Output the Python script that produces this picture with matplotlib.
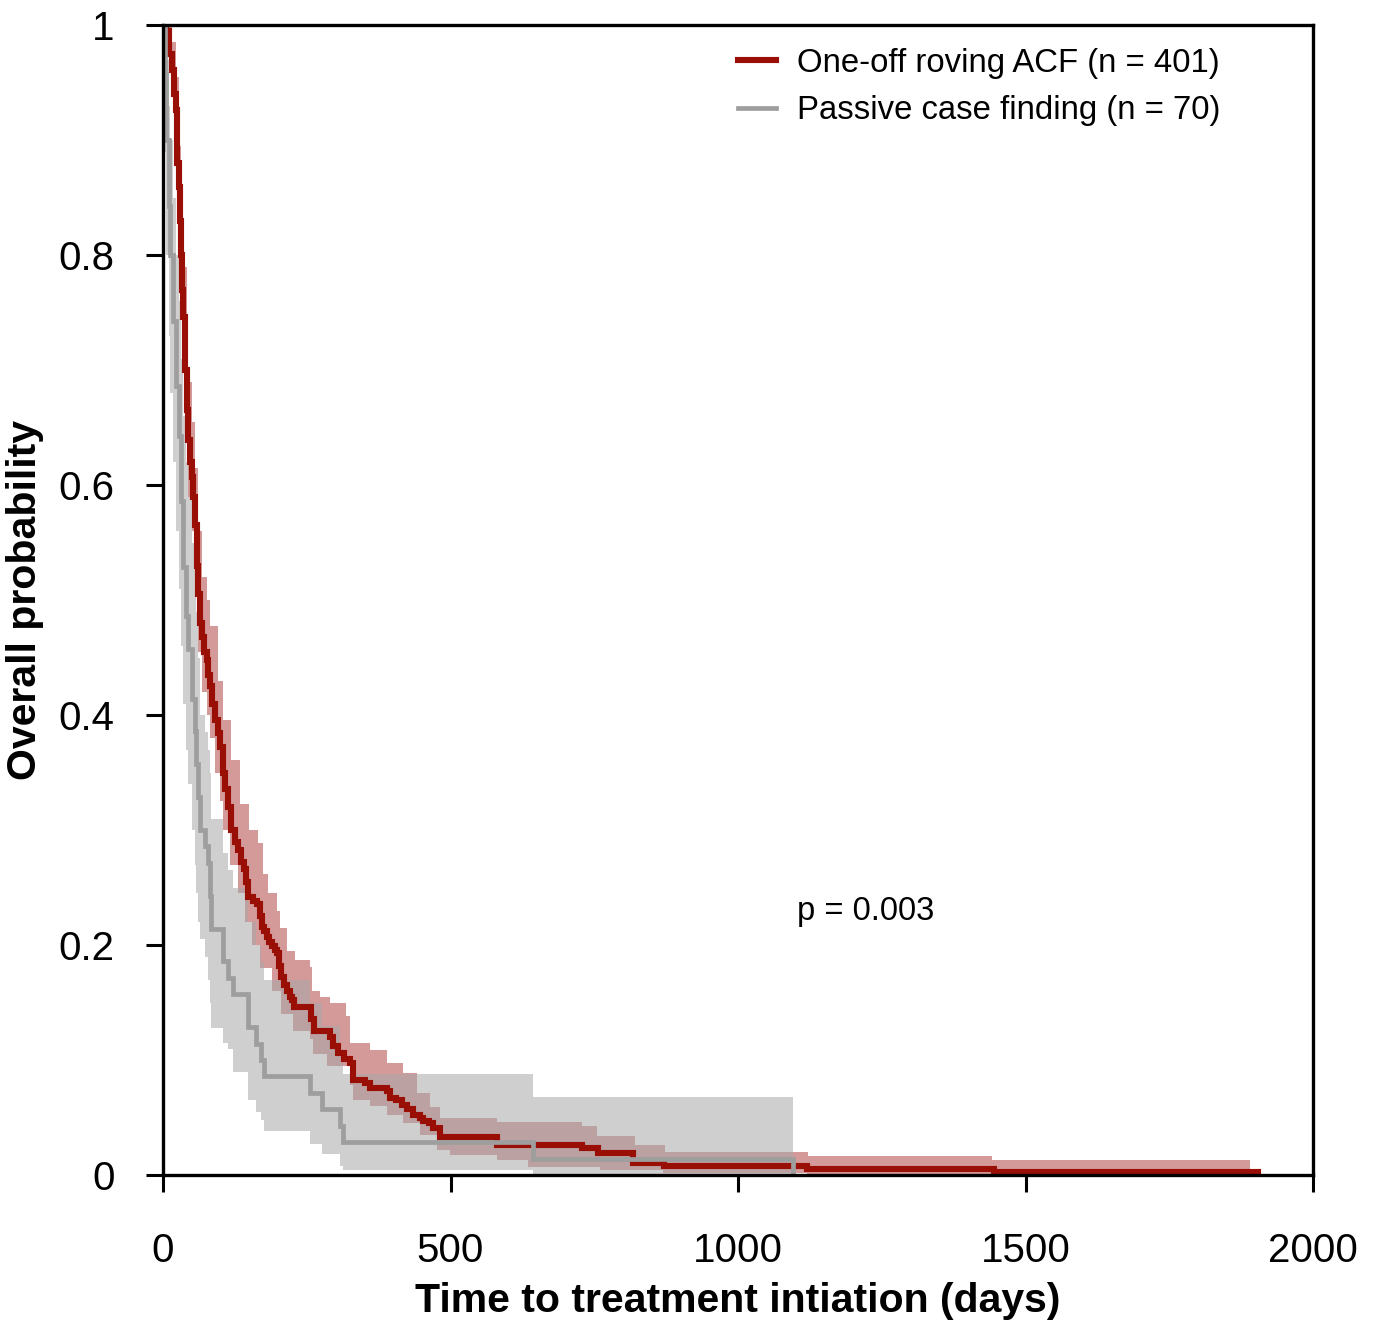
import numpy as np
import matplotlib
matplotlib.use('Agg')
import matplotlib.pyplot as plt

plt.rcParams['font.family'] = ['Liberation Sans', 'DejaVu Sans']

# One-off roving ACF (n = 401): Kaplan-Meier steps
acf_t = [0, 6, 10, 15, 19, 22, 25, 27, 29, 31, 33, 35, 38, 41, 44, 47, 50, 53, 56, 59,
         61, 64, 67, 72, 76, 79, 82, 86, 90, 95, 99, 104, 108, 113, 119, 125, 131, 136,
         140, 144, 148, 156, 163, 168, 172, 176, 180, 185, 189, 194, 198, 202, 206, 211,
         215, 220, 224, 227, 258, 262, 290, 296, 305, 315, 325, 331, 351, 360, 389, 395,
         406, 415, 424, 435, 447, 453, 462, 470, 482, 581, 728, 757, 817, 872, 1120,
         1445, 1905]
acf_s = [1.0, 0.995, 0.975, 0.961, 0.94, 0.926, 0.88, 0.859, 0.83, 0.80, 0.77, 0.746,
         0.70, 0.665, 0.639, 0.62, 0.607, 0.59, 0.565, 0.53, 0.505, 0.48, 0.468, 0.455,
         0.448, 0.435, 0.425, 0.41, 0.396, 0.384, 0.372, 0.35, 0.336, 0.32, 0.30, 0.29,
         0.283, 0.272, 0.266, 0.255, 0.242, 0.238, 0.236, 0.225, 0.216, 0.212, 0.207,
         0.203, 0.199, 0.196, 0.193, 0.182, 0.172, 0.165, 0.160, 0.155, 0.152, 0.146,
         0.136, 0.125, 0.120, 0.112, 0.106, 0.101, 0.097, 0.083, 0.080, 0.076, 0.073,
         0.067, 0.065, 0.061, 0.057, 0.052, 0.050, 0.047, 0.045, 0.041, 0.033, 0.026,
         0.0235, 0.019, 0.0105, 0.0075, 0.005, 0.0025, 0.0]
acf_up_t = [0, 15, 22, 27, 31, 35, 41, 44, 50, 56, 61, 67, 76, 82, 96, 105, 119, 134, 150,
            166, 174, 183, 198, 203, 215, 230, 256, 259, 273, 290, 319, 325, 360, 389,
            418, 441, 464, 482, 581, 728, 755, 821, 873, 1122, 1442, 1890]
acf_up = [1.0, 0.985, 0.955, 0.895, 0.845, 0.79, 0.715, 0.69, 0.655, 0.615, 0.56, 0.52,
          0.50, 0.477, 0.43, 0.396, 0.361, 0.323, 0.30, 0.289, 0.262, 0.245, 0.23, 0.215,
          0.195, 0.187, 0.181, 0.16, 0.155, 0.15, 0.138, 0.115, 0.109, 0.097, 0.089,
          0.071, 0.059, 0.050, 0.046, 0.043, 0.034, 0.026, 0.020, 0.0165, 0.013, 0.013]
acf_lo_t = [0, 6, 15, 22, 27, 31, 35, 41, 44, 50, 56, 61, 67, 76, 82, 90, 99, 105, 117,
            131, 143, 154, 169, 189, 206, 226, 256, 261, 285, 325, 331, 360, 389, 418,
            447, 476, 499, 581, 635, 760, 870, 1120, 1890]
acf_lo = [1.0, 0.985, 0.94, 0.90, 0.825, 0.76, 0.70, 0.62, 0.59, 0.56, 0.52, 0.455, 0.42,
          0.40, 0.38, 0.35, 0.325, 0.30, 0.27, 0.245, 0.22, 0.20, 0.18, 0.16, 0.14, 0.125,
          0.118, 0.105, 0.095, 0.078, 0.065, 0.06, 0.052, 0.045, 0.035, 0.022, 0.017,
          0.013, 0.007, 0.004, 0.002, 0.0008, 0.0008]

# Passive case finding (n = 70)
pcf_t = [0, 3, 6, 10, 13, 17, 22, 27, 31, 35, 40, 44, 50, 56, 58, 61, 64, 73, 79, 81, 83,
         105, 113, 122, 148, 162, 170, 176, 256, 276, 308, 313, 644, 1096]
pcf_s = [1.0, 0.957, 0.9, 0.843, 0.8, 0.743, 0.686, 0.643, 0.586, 0.529, 0.486, 0.457,
         0.414, 0.386, 0.357, 0.329, 0.3, 0.286, 0.271, 0.243, 0.214, 0.186, 0.171, 0.157,
         0.129, 0.114, 0.1, 0.086, 0.071, 0.057, 0.043, 0.029, 0.014, 0.0]
pcf_up_t = [0, 3, 6, 10, 13, 17, 22, 27, 31, 35, 40, 44, 50, 56, 58, 61, 64, 73, 79, 81,
            83, 105, 113, 122, 148, 162, 170, 176, 256, 276, 308, 313, 644, 1096]
pcf_up = [1.0, 1.0, 0.97, 0.93, 0.90, 0.85, 0.80, 0.76, 0.71, 0.66, 0.62, 0.59, 0.55,
          0.52, 0.49, 0.45, 0.40, 0.385, 0.37, 0.35, 0.31, 0.28, 0.265, 0.25, 0.22, 0.20,
          0.185, 0.17, 0.15, 0.13, 0.11, 0.088, 0.068, 0.068]
pcf_lo_t = pcf_up_t
pcf_lo = [1.0, 0.89, 0.80, 0.73, 0.68, 0.62, 0.56, 0.51, 0.46, 0.41, 0.37, 0.34, 0.30,
          0.27, 0.245, 0.22, 0.205, 0.19, 0.17, 0.15, 0.128, 0.115, 0.11, 0.09, 0.065,
          0.055, 0.048, 0.038, 0.027, 0.018, 0.008, 0.004, 0.0, 0.0]

x_ticks = [0, 500, 1000, 1500, 2000]
y_ticks = [0, 0.2, 0.4, 0.6, 0.8, 1]
y_ticklabels = ['0', '0.2', '0.4', '0.6', '0.8', '1']

red = '#990f05'
grey = '#9e9e9e'


def step_xy(t, v):
    t = np.asarray(t, float)
    v = np.asarray(v, float)
    x = np.repeat(t, 2)[1:]
    y = np.repeat(v, 2)[:-1]
    return x, y


def band(ax, t_up, up, t_lo, lo, **kw):
    xu, yu = step_xy(t_up, up)
    xl, yl = step_xy(t_lo, lo)
    ax.fill(np.r_[xu, xl[::-1]], np.r_[yu, yl[::-1]], lw=0, **kw)


fig = plt.figure(figsize=(13.78, 13.24), dpi=100)
ax = fig.add_axes([163 / 1378, 149 / 1324, 1150 / 1378, 1150 / 1324])

band(ax, acf_up_t, acf_up, acf_lo_t, acf_lo, color=(0.63, 0.12, 0.12), alpha=0.45)
band(ax, pcf_up_t, pcf_up, pcf_lo_t, pcf_lo, color=(0.66, 0.66, 0.66), alpha=0.55)

ax.step(acf_t, acf_s, where='post', color=red, lw=4.4, solid_joinstyle='miter',
        label='One-off roving ACF (n = 401)')
ax.step(pcf_t, pcf_s, where='post', color=grey, lw=3.4, solid_joinstyle='miter',
        label='Passive case finding (n = 70)')

ax.set_xlim(0, 2000)
ax.set_ylim(0, 1)
ax.set_xticks(x_ticks)
ax.set_yticks(y_ticks)
ax.set_yticklabels(y_ticklabels)
ax.tick_params(axis='both', labelsize=29, width=2.2, length=12)
ax.tick_params(axis='x', pad=29)
ax.tick_params(axis='y', pad=23)
for sp in ax.spines.values():
    sp.set_linewidth(2.4)

ax.set_xlabel('Time to treatment intiation (days)', fontsize=29.5, fontweight='bold',
              labelpad=9)
ax.set_ylabel('Overall probability', fontsize=29.5, fontweight='bold', labelpad=10)

ax.text(1103, 0.229, 'p = 0.003', fontsize=23.5, va='center', ha='left')

leg = ax.legend(loc='upper left', bbox_to_anchor=(0.5, 0.98), frameon=False,
                fontsize=23.7, handlelength=1.15, handletextpad=0.65, labelspacing=0.5,
                borderpad=0, borderaxespad=0)

fig.savefig('out.png', dpi=100)
